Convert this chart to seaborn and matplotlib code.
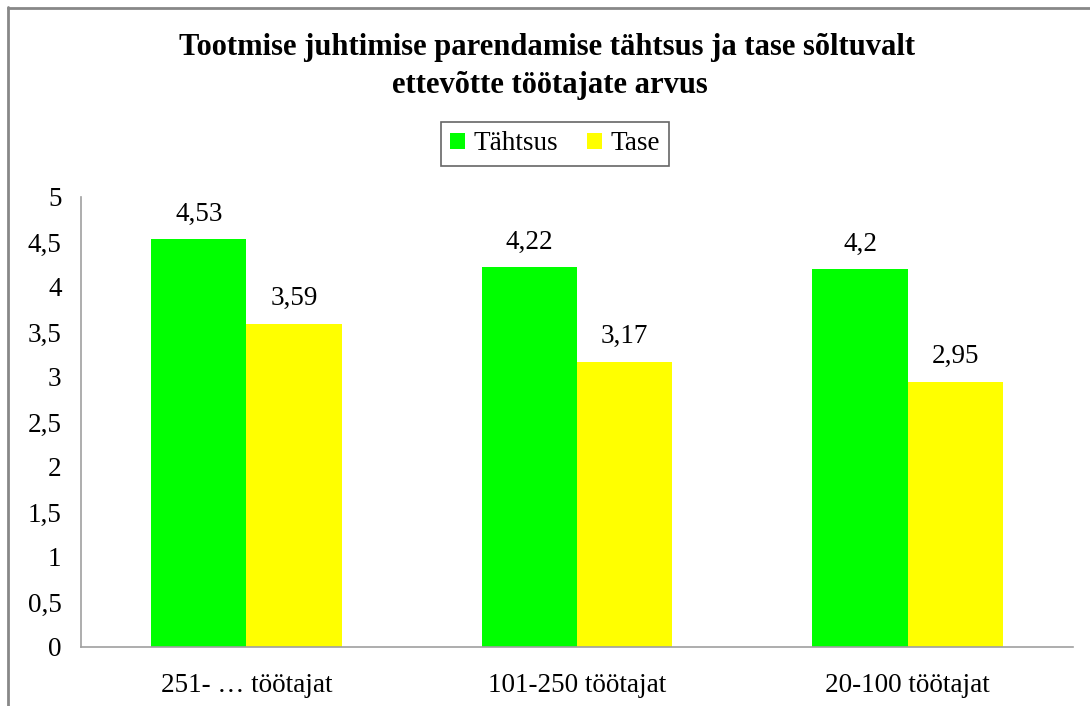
import matplotlib
matplotlib.use("Agg")
import matplotlib.pyplot as plt
import seaborn as sns
import pandas as pd
from matplotlib.patches import Patch
from matplotlib.lines import Line2D

# andmed
kategooriad = ["251- … töötajat", "101-250 töötajat", "20-100 töötajat"]
seeriad = ["Tähtsus", "Tase"]
tahtsus = [4.53, 4.22, 4.2]
tase = [3.59, 3.17, 2.95]
varvid = ["#00FF00", "#FFFF00"]
y_ticks = [0, 0.5, 1, 1.5, 2, 2.5, 3, 3.5, 4, 4.5, 5]

df = pd.DataFrame({
    "kategooria": kategooriad * 2,
    "seeria": [seeriad[0]] * 3 + [seeriad[1]] * 3,
    "vaartus": tahtsus + tase,
})

sns.set_theme(style="white")
plt.rcParams["font.family"] = ["Liberation Serif", "DejaVu Serif"]
plt.rcParams["text.color"] = "black"
plt.rcParams["xtick.color"] = "black"
plt.rcParams["ytick.color"] = "black"

FS = 19.5
W, H = 1090, 706
fig = plt.figure(figsize=(W / 100, H / 100), dpi=100)
ax = fig.add_axes([81 / W, 59 / H, (1073 - 81) / W, (647 - 197) / H])

sns.barplot(data=df, x="kategooria", y="vaartus", hue="seeria",
            palette=varvid, width=0.576, gap=0, ax=ax, legend=False,
            saturation=1, linewidth=0, errorbar=None)

ax.set_ylim(0, 5)
ax.set_xlim(-0.5, 2.5)
ax.set_yticks(y_ticks)
ax.set_yticklabels([f"{v:g}".replace(".", ",") for v in y_ticks], fontsize=FS)
ax.tick_params(axis="x", labelsize=FS, pad=19, length=0, labelcolor="black")
ax.tick_params(axis="y", pad=14, length=0, labelcolor="black")
ax.set_xlabel("")
ax.set_ylabel("")

for s in ["top", "right"]:
    ax.spines[s].set_visible(False)
for s in ["left", "bottom"]:
    ax.spines[s].set_color("#a0a0a0")
    ax.spines[s].set_linewidth(1.2)

# väärtused tulpade kohal
for cont in ax.containers:
    for bar in cont:
        h = bar.get_height()
        ax.annotate(f"{h:g}".replace(".", ","),
                    (bar.get_x() + bar.get_width() / 2, h),
                    xytext=(0, 9), textcoords="offset points",
                    ha="center", va="bottom", fontsize=FS, color="black")

fig.text(0.5 + 2 / W, 1 - 48 / H, "Tootmise juhtimise parendamise tähtsus ja tase sõltuvalt",
         ha="center", va="center", fontsize=22, fontweight="bold", color="black")
fig.text(0.5 + 5 / W, 1 - 86 / H, "ettevõtte töötajate arvus",
         ha="center", va="center", fontsize=22, fontweight="bold", color="black")

handles = [Patch(facecolor=varvid[0], edgecolor="none"),
           Patch(facecolor=varvid[1], edgecolor="none")]
leg = fig.legend(handles, seeriad, loc="center", bbox_to_anchor=(555 / W, 1 - 144 / H),
                 ncol=2, frameon=True, fontsize=FS, handlelength=0.55, handleheight=0.55,
                 handletextpad=0.3, columnspacing=1.1, borderpad=0.35, fancybox=False)
leg.get_frame().set_edgecolor("#404040")
leg.get_frame().set_linewidth(1.2)

# välimine raam (ainult vasak ja ülemine serv on nähtav)
fig.add_artist(Line2D([8 / W, 8 / W], [0, 1 - 7 / H], color="#888888", linewidth=2,
                      transform=fig.transFigure))
fig.add_artist(Line2D([8 / W, 1], [1 - 8 / H, 1 - 8 / H], color="#888888", linewidth=2,
                      transform=fig.transFigure))

fig.savefig("out.png", dpi=100)
